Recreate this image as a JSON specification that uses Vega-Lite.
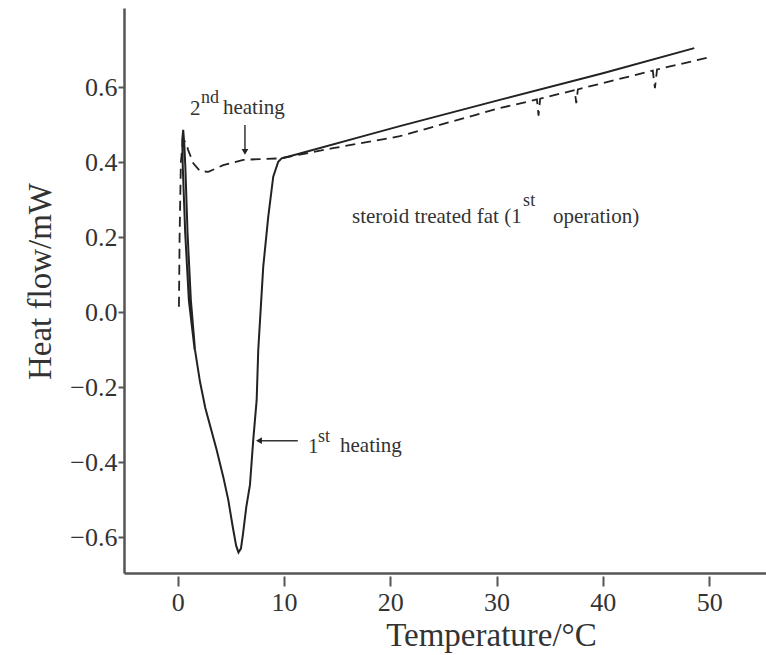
{
  "$schema": "https://vega.github.io/schema/vega-lite/v6.json",
  "width": 642,
  "height": 565,
  "autosize": "none",
  "padding": {"left": 124, "top": 8, "right": 0, "bottom": 82},
  "background": "white",
  "config": {
    "view": {"stroke": null},
    "font": "Liberation Serif",
    "axis": {
      "grid": false,
      "domainColor": "#555",
      "domainWidth": 2.5,
      "tickColor": "#555",
      "tickWidth": 2,
      "labelColor": "#333",
      "titleColor": "#333",
      "labelFont": "Liberation Serif",
      "titleFont": "Liberation Serif",
      "titleFontWeight": "normal",
      "labelFontSize": 26,
      "titleFontSize": 33
    }
  },
  "datasets": {
    "solid": [
      {"i": 0, "x": 1.6, "y": -0.1},
      {"i": 1, "x": 1.05, "y": 0.033},
      {"i": 2, "x": 0.71, "y": 0.211},
      {"i": 3, "x": 0.48, "y": 0.389},
      {"i": 4, "x": 0.43, "y": 0.46},
      {"i": 5, "x": 0.52, "y": 0.487},
      {"i": 6, "x": 0.62, "y": 0.45},
      {"i": 7, "x": 0.72, "y": 0.389},
      {"i": 8, "x": 0.93, "y": 0.211},
      {"i": 9, "x": 1.24, "y": 0.033},
      {"i": 10, "x": 1.63, "y": -0.1},
      {"i": 11, "x": 2.1, "y": -0.185},
      {"i": 12, "x": 2.6, "y": -0.255},
      {"i": 13, "x": 3.67, "y": -0.367},
      {"i": 14, "x": 4.3, "y": -0.44},
      {"i": 15, "x": 4.76, "y": -0.5},
      {"i": 16, "x": 5.2, "y": -0.575},
      {"i": 17, "x": 5.5, "y": -0.622},
      {"i": 18, "x": 5.72, "y": -0.64},
      {"i": 19, "x": 5.95, "y": -0.63},
      {"i": 20, "x": 6.15, "y": -0.59},
      {"i": 21, "x": 6.45, "y": -0.52},
      {"i": 22, "x": 6.8, "y": -0.46},
      {"i": 23, "x": 7.11, "y": -0.34},
      {"i": 24, "x": 7.43, "y": -0.234},
      {"i": 25, "x": 7.58, "y": -0.1},
      {"i": 26, "x": 8.05, "y": 0.122},
      {"i": 27, "x": 8.52, "y": 0.255},
      {"i": 28, "x": 8.99, "y": 0.362},
      {"i": 29, "x": 9.46, "y": 0.402},
      {"i": 30, "x": 9.78, "y": 0.411},
      {"i": 31, "x": 11.5, "y": 0.424},
      {"i": 32, "x": 17.8, "y": 0.473},
      {"i": 33, "x": 20.9, "y": 0.497},
      {"i": 34, "x": 30.3, "y": 0.567},
      {"i": 35, "x": 40, "y": 0.638},
      {"i": 36, "x": 48.6, "y": 0.705}
    ],
    "dashed": [
      {"i": 0, "x": 0.12, "y": 0.015},
      {"i": 1, "x": 0.18, "y": 0.2},
      {"i": 2, "x": 0.3, "y": 0.4},
      {"i": 3, "x": 0.5, "y": 0.46},
      {"i": 4, "x": 0.75, "y": 0.455},
      {"i": 5, "x": 0.99, "y": 0.433},
      {"i": 6, "x": 1.47, "y": 0.398},
      {"i": 7, "x": 2.1, "y": 0.377},
      {"i": 8, "x": 2.88, "y": 0.375},
      {"i": 9, "x": 4.29, "y": 0.393},
      {"i": 10, "x": 6.17, "y": 0.407},
      {"i": 11, "x": 7.74, "y": 0.409},
      {"i": 12, "x": 9.7, "y": 0.411},
      {"i": 13, "x": 14.6, "y": 0.438},
      {"i": 14, "x": 20.9, "y": 0.47},
      {"i": 15, "x": 30.3, "y": 0.545},
      {"i": 16, "x": 33.8, "y": 0.568},
      {"i": 17, "x": 33.95, "y": 0.525},
      {"i": 18, "x": 34.1, "y": 0.57},
      {"i": 19, "x": 37.35, "y": 0.593},
      {"i": 20, "x": 37.5, "y": 0.558},
      {"i": 21, "x": 37.65, "y": 0.595},
      {"i": 22, "x": 44.7, "y": 0.645},
      {"i": 23, "x": 44.9, "y": 0.598},
      {"i": 24, "x": 45.1, "y": 0.648},
      {"i": 25, "x": 50.1, "y": 0.681}
    ],
    "arrows": [
      {"x": 6.33, "x2": 6.33, "y": 0.5, "y2": 0.435},
      {"x": 11.3, "x2": 7.8, "y": -0.342, "y2": -0.342}
    ],
    "heads": [
      {"x": 6.33, "y": 0.428, "s": "triangle-down"},
      {"x": 7.65, "y": -0.342, "s": "triangle-left"}
    ],
    "labels": [
      {"t": "2", "x": 1.16, "y": 0.527},
      {"t": "heating", "x": 4.26, "y": 0.529},
      {"t": "1", "x": 12.26, "y": -0.375},
      {"t": "heating", "x": 15.27, "y": -0.373},
      {"t": "steroid treated fat (1", "x": 16.4, "y": 0.238},
      {"t": "operation)", "x": 35.3, "y": 0.238}
    ],
    "sups": [
      {"t": "nd", "x": 2.19, "y": 0.558},
      {"t": "st", "x": 13.2, "y": -0.346},
      {"t": "st", "x": 32.5, "y": 0.284}
    ]
  },
  "layer": [
    {
      "mark": {"type": "rule", "color": "#555", "strokeWidth": 2.5},
      "encoding": {
        "y": {"datum": 0.812, "type": "quantitative", "scale": {"domain": [-0.695, 0.812], "nice": false, "zero": false},
          "axis": {"values": [-0.6, -0.4, -0.2, 0, 0.2, 0.4, 0.6], "format": ".1f", "title": "Heat flow/mW", "tickSize": 6, "labelPadding": 1, "titlePadding": 12, "titleY": 273}}
      }
    },
    {
      "data": {"name": "solid"},
      "mark": {"type": "line", "color": "#222", "strokeWidth": 2},
      "encoding": {
        "x": {"field": "x", "type": "quantitative", "scale": {"domain": [-5.05, 55.35], "nice": false, "zero": false},
          "axis": {"values": [0, 10, 20, 30, 40, 50], "title": "Temperature/°C", "tickSize": 13, "tickDash": [0, 3, 10], "labelPadding": 3, "titlePadding": 4, "titleX": 367}},
        "y": {"field": "y", "type": "quantitative"},
        "order": {"field": "i"}
      }
    },
    {
      "data": {"name": "dashed"},
      "mark": {"type": "line", "color": "#222", "strokeWidth": 1.8, "strokeDash": [10, 6]},
      "encoding": {
        "x": {"field": "x", "type": "quantitative"},
        "y": {"field": "y", "type": "quantitative"},
        "order": {"field": "i"}
      }
    },
    {
      "data": {"name": "arrows"},
      "mark": {"type": "rule", "color": "#333", "strokeWidth": 1.5},
      "encoding": {
        "x": {"field": "x", "type": "quantitative"},
        "x2": {"field": "x2"},
        "y": {"field": "y", "type": "quantitative"},
        "y2": {"field": "y2"}
      }
    },
    {
      "data": {"name": "heads"},
      "mark": {"type": "point", "filled": true, "color": "#222", "size": 45, "opacity": 1},
      "encoding": {
        "x": {"field": "x", "type": "quantitative"},
        "y": {"field": "y", "type": "quantitative"},
        "shape": {"field": "s", "type": "nominal", "scale": null, "legend": null}
      }
    },
    {
      "data": {"name": "labels"},
      "mark": {"type": "text", "align": "left", "baseline": "alphabetic", "font": "Liberation Serif", "fontSize": 21, "color": "#333"},
      "encoding": {
        "x": {"field": "x", "type": "quantitative"},
        "y": {"field": "y", "type": "quantitative"},
        "text": {"field": "t"}
      }
    },
    {
      "data": {"name": "sups"},
      "mark": {"type": "text", "align": "left", "baseline": "alphabetic", "font": "Liberation Serif", "fontSize": 18, "color": "#333"},
      "encoding": {
        "x": {"field": "x", "type": "quantitative"},
        "y": {"field": "y", "type": "quantitative"},
        "text": {"field": "t"}
      }
    }
  ]
}
